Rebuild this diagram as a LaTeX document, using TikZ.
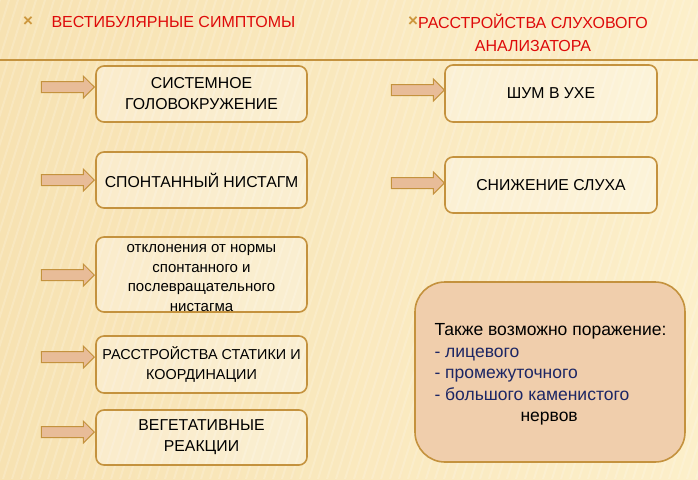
\documentclass[tikz,border=0pt]{standalone}
\usepackage{fontspec}
\setmainfont{Liberation Sans}
\usetikzlibrary{shapes.arrows,positioning}

\definecolor{bgcream}{RGB}{252,239,202}
\definecolor{bgwarm}{RGB}{247,226,178}
\definecolor{boxline}{RGB}{196,146,62}
\definecolor{arrowfill}{RGB}{232,188,152}
\definecolor{peach}{RGB}{240,206,172}
\definecolor{headred}{RGB}{222,10,10}
\definecolor{bulletgold}{RGB}{204,150,60}
\definecolor{navy}{RGB}{28,38,100}

\tikzset{
  symbox/.style={draw=boxline,line width=1.6pt,rounded corners=8pt,
    fill=white,fill opacity=0.3,text opacity=1,align=center,
    font=\fontsize{15.8}{21}\selectfont},
  blockarrow/.style={single arrow,draw=boxline,line width=1pt,fill=arrowfill,
    inner sep=0pt,minimum height=53pt,minimum width=21pt,
    single arrow head extend=5.5pt,single arrow head indent=0pt,
    text height=10pt},
  headline/.style={headred,font=\fontsize{16}{23}\selectfont},
  bulletmark/.style={bulletgold,inner sep=0pt,font=\fontsize{17}{17}\selectfont\bfseries}
}

\begin{document}
\begin{tikzpicture}[x=1pt,y=-1pt]
% background
\shade[left color=bgwarm,right color=bgcream] (0,0) rectangle (698,479);
\begin{scope}
\clip (0,0) rectangle (698,479);
\foreach \i in {0,9,...,900}
  \draw[white,opacity=0.18,line width=2pt] (\i,0) -- (\i-150,479);
\end{scope}
\useasboundingbox (0,0) rectangle (698,479);

% headings
\node[bulletmark] (x1) at (28,22) {×};
\node[headline,anchor=west] (h1) at (48,22) {ВЕСТИБУЛЯРНЫЕ СИМПТОМЫ};
\node[headline,align=center] (h2) at (533,33) {РАССТРОЙСТВА СЛУХОВОГО\\АНАЛИЗАТОРА};
\node[bulletmark] (x2) at (413,22) {×};
\draw[boxline,line width=1.2pt] (0,60) -- (698,60);

% left column
\node[symbox,minimum width=211pt,minimum height=56pt] (b1) at (201.5,94) {СИСТЕМНОЕ\\ГОЛОВОКРУЖЕНИЕ};
\node[symbox,minimum width=211pt,minimum height=56pt] (b2) at (201.5,180) {СПОНТАННЫЙ НИСТАГМ};
\node[symbox,minimum width=211pt,minimum height=75pt] (b3) at (201.5,274.5) {};
\node[align=center,font=\fontsize{15}{19.5}\selectfont] (t3) at (201.5,278) {отклонения от нормы\\спонтанного и\\послевращательного\\нистагма};
\node[symbox,minimum width=211pt,minimum height=57pt,font=\fontsize{14.4}{20}\selectfont] (b4) at (201.5,364.5) {РАССТРОЙСТВА СТАТИКИ И\\КООРДИНАЦИИ};
\node[symbox,minimum width=211pt,minimum height=55pt] (b5) at (201.5,437.5) {ВЕГЕТАТИВНЫЕ\\РЕАКЦИИ};

\node[blockarrow,anchor=tip] (a1) at (95,87) {};
\node[blockarrow,anchor=tip] (a2) at (95,180) {};
\node[blockarrow,anchor=tip] (a3) at (95,275) {};
\node[blockarrow,anchor=tip] (a4) at (95,357) {};
\node[blockarrow,anchor=tip] (a5) at (95,432) {};

% right column
\node[symbox,minimum width=212pt,minimum height=57pt] (r1) at (551,93.5) {ШУМ В УХЕ};
\node[symbox,minimum width=212pt,minimum height=56pt] (r2) at (551,185) {СНИЖЕНИЕ СЛУХА};
\node[blockarrow,anchor=tip] (a6) at (445,90) {};
\node[blockarrow,anchor=tip] (a7) at (445,183) {};

\node[draw=boxline,line width=1.6pt,fill=peach,rounded corners=30pt,
  minimum width=270pt,minimum height=180pt] (nerv) at (550,372) {};
\node[anchor=north west,align=left,font=\fontsize{17.5}{21.5}\selectfont] (nt) at (431,320)
  {Также возможно поражение:\\
   \textcolor{navy}{- лицевого}\\
   \textcolor{navy}{- промежуточного}\\
   \textcolor{navy}{- большого каменистого}\\
   \hspace*{86pt}нервов};
\end{tikzpicture}
\end{document}
